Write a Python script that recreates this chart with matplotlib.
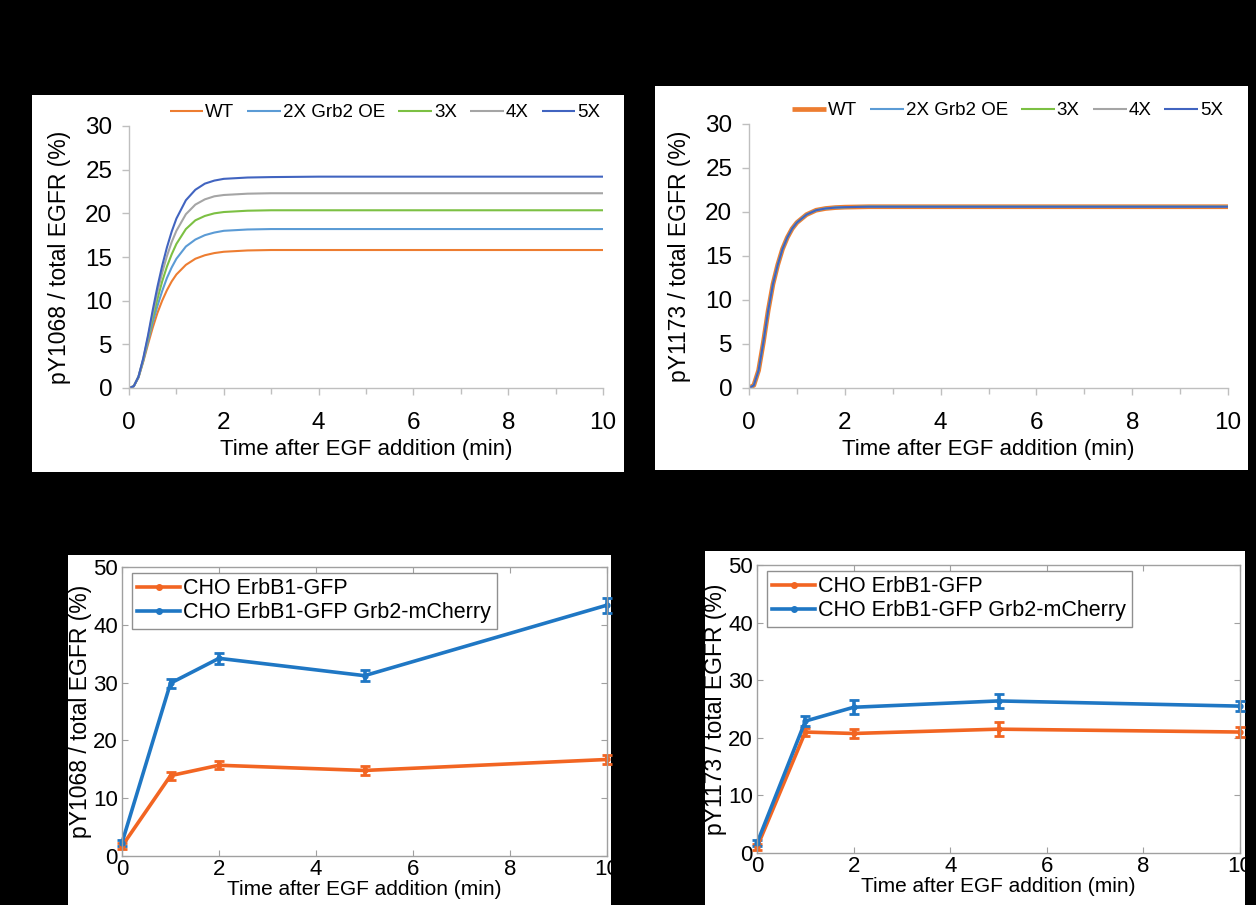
import matplotlib
matplotlib.use("Agg")
import matplotlib.pyplot as plt
from matplotlib.patches import Rectangle
from matplotlib.lines import Line2D
from matplotlib.ticker import MultipleLocator

plt.rcParams['font.family'] = ['Liberation Sans', 'DejaVu Sans']

W, H = 1256, 905

# --- simulation curves (top row) ---
t_sim = [0, 0.1, 0.2, 0.3, 0.4, 0.5, 0.6, 0.7, 0.8, 0.9, 1.0, 1.2, 1.4, 1.6, 1.8, 2.0, 2.5, 3.0, 4.0, 10]
sim_labels = ["WT", "2X Grb2 OE", "3X", "4X", "5X"]
sim_colors = ['#ED7D31', '#5B9BD5', '#7CC043', '#A5A5A5', '#4164C0']

py1068_wt = [0, 0.2, 1.2, 3.0, 5.0, 6.9, 8.6, 10.0, 11.2, 12.2, 13.0, 14.1, 14.8, 15.2, 15.45, 15.6, 15.75, 15.8, 15.8, 15.8]
py1068_2x = [0, 0.2, 1.2, 3.1, 5.3, 7.5, 9.4, 11.1, 12.6, 13.8, 14.8, 16.2, 17.0, 17.5, 17.8, 18.0, 18.15, 18.2, 18.2, 18.2]
py1068_3x = [0, 0.2, 1.3, 3.2, 5.6, 8.0, 10.2, 12.2, 13.9, 15.3, 16.5, 18.2, 19.2, 19.7, 20.0, 20.15, 20.3, 20.35, 20.35, 20.35]
py1068_4x = [0, 0.2, 1.3, 3.3, 5.8, 8.5, 11.0, 13.2, 15.1, 16.7, 18.0, 19.9, 21.0, 21.6, 21.95, 22.1, 22.25, 22.3, 22.3, 22.3]
py1068_5x = [0, 0.2, 1.3, 3.4, 6.0, 8.9, 11.6, 14.0, 16.1, 17.9, 19.4, 21.5, 22.7, 23.4, 23.75, 23.95, 24.1, 24.15, 24.2, 24.2]

# pY1173: all five levels give the same curve
py1173_sim = [0, 0.3, 2.0, 5.2, 8.8, 11.8, 14.0, 15.8, 17.1, 18.1, 18.8, 19.7, 20.2, 20.4, 20.5, 20.55, 20.6, 20.6, 20.6, 20.6]

# --- experiments (bottom row) ---
t_exp = [0, 1, 2, 5, 10]
exp_labels = ["CHO ErbB1-GFP", "CHO ErbB1-GFP Grb2-mCherry"]
exp_colors = ['#F26522', '#1F77C4']

y1068_gfp = [1.7, 13.9, 15.7, 14.8, 16.7]
e1068_gfp = [0.5, 0.7, 0.7, 0.8, 0.8]
y1068_grb2 = [2.3, 29.9, 34.2, 31.2, 43.4]
e1068_grb2 = [0.5, 0.8, 0.9, 0.9, 1.3]

y1173_gfp = [1.0, 21.0, 20.75, 21.5, 21.0]
e1173_gfp = [0.5, 0.7, 0.7, 1.2, 0.8]
y1173_grb2 = [1.7, 22.9, 25.3, 26.4, 25.5]
e1173_grb2 = [0.5, 0.8, 1.2, 1.2, 0.9]


def fbox(x0, y0, x1, y1):
    """pixel box (top-left origin) -> figure fraction [l, b, w, h]"""
    return [x0 / W, 1 - y1 / H, (x1 - x0) / W, (y1 - y0) / H]


def panel_bg(fig, x0, y0, x1, y1):
    l, b, w, h = fbox(x0, y0, x1, y1)
    fig.add_artist(Rectangle((l, b), w, h, transform=fig.transFigure,
                             facecolor='white', edgecolor='none', zorder=0))


def sim_panel(fig, box, curves, ylabel, thick_first=False):
    ax = fig.add_axes(fbox(*box))
    ax.set_facecolor('none')
    for i, (y, lab, c) in enumerate(zip(curves, sim_labels, sim_colors)):
        lw = 3.4 if (thick_first and i == 0) else 1.5
        ax.plot(t_sim, y, color=c, lw=lw, label=lab, solid_capstyle='butt')
    ax.set_xlim(0, 10)
    ax.set_ylim(0, 30)
    ax.xaxis.set_major_locator(MultipleLocator(2))
    ax.xaxis.set_minor_locator(MultipleLocator(1))
    ax.yaxis.set_major_locator(MultipleLocator(5))
    for s in ['top', 'right']:
        ax.spines[s].set_visible(False)
    for s in ['left', 'bottom']:
        ax.spines[s].set_color('#BFBFBF')
        ax.spines[s].set_linewidth(1.0)
    ax.tick_params(which='both', direction='out', color='#BFBFBF', width=1.0,
                   labelsize=17.5, labelcolor='black')
    ax.tick_params(which='major', length=5, pad=7)
    ax.tick_params(which='minor', length=4)
    ax.tick_params(axis='x', pad=12)
    ax.set_xlabel("Time after EGF addition (min)", fontsize=16, labelpad=4)
    ax.set_ylabel(ylabel, fontsize=16.5, labelpad=10)
    ax.legend(loc='lower center', bbox_to_anchor=(0.54, 0.99), ncol=5, frameon=False,
              fontsize=13.5, handlelength=1.8, handletextpad=0.1, columnspacing=0.7,
              borderaxespad=0)
    return ax


def exp_panel(fig, box, gfp, egfp, grb2, egrb2, ylabel):
    ax = fig.add_axes(fbox(*box))
    ax.set_facecolor('none')
    handles = []
    for y, e, lab, c in [(gfp, egfp, exp_labels[0], exp_colors[0]),
                         (grb2, egrb2, exp_labels[1], exp_colors[1])]:
        ax.errorbar(t_exp, y, yerr=e, color=c, lw=2.6, marker='.', ms=7,
                    elinewidth=2.6, capsize=3.5, capthick=2.0, clip_on=False)
        handles.append(Line2D([], [], color=c, lw=2.6, marker='.', ms=8, label=lab))
    ax.set_xlim(0, 10)
    ax.set_ylim(0, 50)
    ax.xaxis.set_major_locator(MultipleLocator(2))
    ax.yaxis.set_major_locator(MultipleLocator(10))
    for s in ax.spines.values():
        s.set_color('#A0A0A0')
        s.set_linewidth(1.0)
    ax.tick_params(direction='in', top=True, right=True, color='#A0A0A0', length=4,
                   labelsize=16, labelcolor='black')
    ax.tick_params(axis='y', pad=3)
    ax.tick_params(axis='x', pad=2)
    ax.set_xlabel("Time after EGF addition (min)", fontsize=15, labelpad=0.5)
    ax.set_ylabel(ylabel, fontsize=16.5, labelpad=1)
    leg = ax.legend(handles=handles, loc='upper left', bbox_to_anchor=(0.02, 0.98), fontsize=15.5,
                    frameon=True, fancybox=False, edgecolor='#909090', framealpha=1,
                    handlelength=2.0, handletextpad=0.15, borderpad=0.25, labelspacing=0.15,
                    borderaxespad=0)
    leg.get_frame().set_linewidth(1.0)
    return ax


fig = plt.figure(figsize=(W / 100, H / 100), dpi=100, facecolor='black')

panel_bg(fig, 32, 95, 624, 472)
panel_bg(fig, 655, 86, 1248, 470)
panel_bg(fig, 68, 555, 611, 905)
panel_bg(fig, 705, 551, 1245, 905)

sim_panel(fig, (129, 126, 603, 388),
          [py1068_wt, py1068_2x, py1068_3x, py1068_4x, py1068_5x],
          "pY1068 / total EGFR (%)")
sim_panel(fig, (749, 124, 1228, 388),
          [py1173_sim] * 5,
          "pY1173 / total EGFR (%)", thick_first=True)

exp_panel(fig, (122, 567, 607, 856), y1068_gfp, e1068_gfp, y1068_grb2, e1068_grb2,
          "pY1068 / total EGFR (%)")
exp_panel(fig, (757, 565, 1240, 853), y1173_gfp, e1173_gfp, y1173_grb2, e1173_grb2,
          "pY1173 / total EGFR (%)")

fig.savefig("out.png", dpi=100, facecolor='black')
